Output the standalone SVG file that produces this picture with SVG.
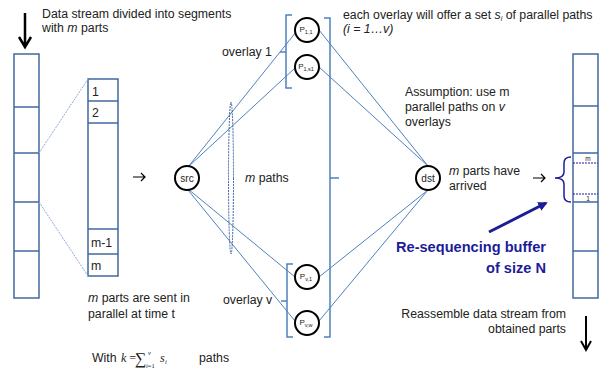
<svg xmlns="http://www.w3.org/2000/svg" width="608" height="372" viewBox="0 0 608 372">
<defs>
<style>
text{font-family:"Liberation Sans",Arial,sans-serif;font-size:12.3px;fill:#222}
.col{fill:#fff;stroke:#41689e;stroke-width:1.5}
.div{stroke:#41689e;stroke-width:1.3}
.edge{stroke:#4f81bd;stroke-width:1;fill:none}
.brk{stroke:#4f81bd;stroke-width:1.5;fill:none}
.node{fill:#fff;stroke:#000;stroke-width:2}
text.nl{font-size:8px;text-anchor:middle}
tspan.sub{font-size:5.5px}
text.lab{font-size:10px;text-anchor:middle}
text.tiny{font-size:6.5px;text-anchor:middle}
text.big{font-size:14.6px;font-weight:bold;fill:#1c1c99;text-anchor:end}
text.ser{font-family:"Liberation Serif","Times New Roman",serif;font-size:12px}
text.sm{font-size:6.5px}
text.sig{font-size:16px}
.zoomline{stroke:#8eaadb;stroke-width:1;stroke-dasharray:2,1;fill:none}
.blk{stroke:#000;fill:none}
</style>
<marker id="bh" viewBox="0 0 10 10" refX="8" refY="5" markerWidth="3.2" markerHeight="3.2" orient="auto">
<path d="M0,0 L10,5 L0,10 Z" fill="#1c1c99"/>
</marker>
</defs>
<rect width="608" height="372" fill="#fff"/>

<g id="stream-in">
<rect class="col" x="14" y="54" width="25" height="244"/>
<path class="div" d="M14,107H39M14,153H39M14,202H39M14,251H39"/>
<path class="blk" stroke-width="2.5" d="M25,13V46M19,37L25,47L31,37"/>
</g>

<g id="segment">
<rect class="col" x="88" y="79" width="30" height="197"/>
<path class="div" d="M88,101H118M88,123H118M88,229H118M88,254H118"/>
<text x="92" y="96">1</text>
<text x="92" y="117">2</text>
<text x="91" y="247">m-1</text>
<text x="91" y="270">m</text>
</g>

<g id="connectors">
<path class="zoomline" d="M39,153L88,79M39,202L88,276"/>
<path class="blk" stroke-width="1.2" d="M133,177H145M141,173L145,177L141,181"/>
<path class="edge" d="M188,167L296,32M188,167L295,68M188,189L295,277M188,190L295,321"/>
<path class="edge" d="M319,30L428,166M319,67L428,166M319,277L428,190M319,321L428,190"/>
<ellipse cx="231" cy="178" rx="2.5" ry="76" fill="none" stroke="#3a5f95" stroke-width="1" stroke-dasharray="2,1"/>
<path class="brk" d="M292,15H286V88H292M286,52H280"/>
<path class="brk" d="M293,264H287V337H293M287,301H281"/>
<path class="brk" d="M324,18H330V337H324M330,178H339"/>
<path class="blk" stroke-width="1.2" d="M533,178H545M541,174L545,178L541,182"/>
<path d="M571,157Q564,157 564,163V172Q564,178 555,178Q564,178 564,184V196Q564,202 571,202" fill="none" stroke="#1c1c99" stroke-width="1.5"/>
<line x1="489" y1="232" x2="546" y2="203" stroke="#1c1c99" stroke-width="3" marker-end="url(#bh)"/>
<path class="blk" stroke-width="2" d="M586,316V349M581,341L586,350L591,341"/>
</g>

<g id="src">
<circle class="node" cx="187" cy="178" r="12"/>
<text class="lab" x="187" y="182">src</text>
</g>
<g id="p11">
<circle class="node" cx="307" cy="30" r="12"/>
<text class="nl" x="306" y="32">P<tspan class="sub" dy="1.5">1,1</tspan></text>
</g>
<g id="p1s1">
<circle class="node" cx="307" cy="67" r="12"/>
<text class="nl" x="306" y="69">P<tspan class="sub" dy="1.5">1,s1</tspan></text>
</g>
<g id="pv1">
<circle class="node" cx="307" cy="277" r="12"/>
<text class="nl" x="306" y="279">P<tspan class="sub" dy="1.5">v,1</tspan></text>
</g>
<g id="pvw">
<circle class="node" cx="307" cy="323" r="12"/>
<text class="nl" x="306" y="325">P<tspan class="sub" dy="1.5">v,w</tspan></text>
</g>
<g id="dst">
<circle class="node" cx="428" cy="178" r="12"/>
<text class="lab" x="428" y="182">dst</text>
</g>

<g id="buffer">
<rect class="col" x="573" y="54" width="25" height="244"/>
<path class="div" d="M573,106H598M573,153H598M573,202H598M573,251H598"/>
<path d="M573,163H598M573,194H598" stroke="#1c1c99" stroke-width="1" stroke-dasharray="2,1"/>
<text class="tiny" x="588" y="161">m</text>
<text class="tiny" x="588" y="201">1</text>
</g>

<g id="labels">
<text x="42" y="18">Data stream divided into segments</text>
<text x="42" y="32">with <tspan font-style="italic">m</tspan> parts</text>
<text x="343" y="19">each overlay will offer a set <tspan font-style="italic">s</tspan><tspan font-style="italic" style="font-size:7px" dy="2">i</tspan><tspan dy="-2"> of parallel paths</tspan></text>
<text x="343" y="33" font-style="italic">(i = 1…v)</text>
<text x="222" y="56">overlay 1</text>
<text x="223" y="304">overlay v</text>
<text x="245" y="182"><tspan font-style="italic">m</tspan> paths</text>
<text x="405" y="96">Assumption: use m</text>
<text x="405" y="111">parallel paths on <tspan font-style="italic">v</tspan></text>
<text x="405" y="126">overlays</text>
<text x="449" y="175"><tspan font-style="italic">m</tspan> parts have</text>
<text x="449" y="190">arrived</text>
<text class="big" x="546" y="252">Re-sequencing buffer</text>
<text class="big" x="546" y="273">of size N</text>
<text x="88" y="302"><tspan font-style="italic">m</tspan> parts are sent in</text>
<text x="88" y="318">parallel at time t</text>
<text x="566" y="318" text-anchor="end">Reassemble data stream from</text>
<text x="566" y="333" text-anchor="end">obtained parts</text>
<text x="92" y="362">With</text>
<text class="ser" x="121" y="362"><tspan font-style="italic">k</tspan> =</text>
<text class="ser sig" x="135" y="364">∑</text>
<text class="ser sm" x="148" y="355" font-style="italic">v</text>
<text class="ser sm" x="146" y="368"><tspan font-style="italic">i</tspan>=1</text>
<text class="ser" x="160" y="362" font-style="italic">s</text>
<text class="ser sm" x="165" y="364" font-style="italic">i</text>
<text x="199" y="362">paths</text>
</g>
</svg>
